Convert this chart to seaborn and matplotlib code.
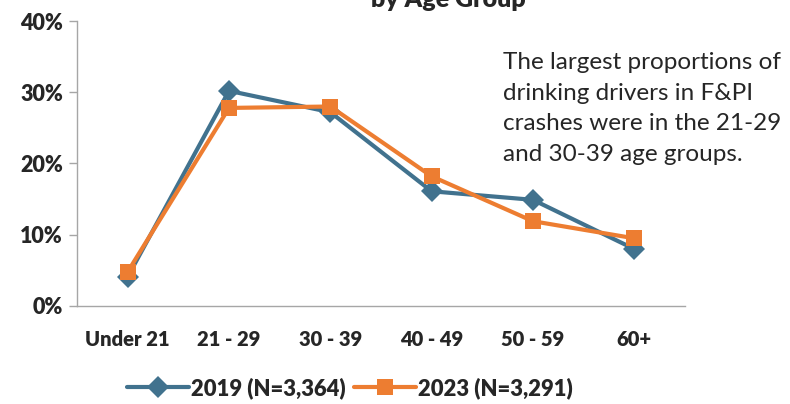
import matplotlib
matplotlib.use("Agg")
import matplotlib.pyplot as plt
import pandas as pd
import seaborn as sns
from matplotlib.ticker import FixedLocator, PercentFormatter

# data (percent of drinking drivers)
age_groups = ["Under 21", "21 - 29", "30 - 39", "40 - 49", "50 - 59", "60+"]
pct_2019 = [4.1, 30.2, 27.2, 16.1, 14.9, 8.0]
pct_2023 = [4.8, 27.8, 28.0, 18.2, 11.9, 9.5]
series_names = ["2019 (N=3,364)", "2023 (N=3,291)"]

df = pd.DataFrame({
    "age": age_groups * 2,
    "pct": pct_2019 + pct_2023,
    "series": [series_names[0]] * 6 + [series_names[1]] * 6,
})

sns.set_style("white")
plt.rcParams["font.family"] = ["Lato", "DejaVu Sans"]

fig = plt.figure(figsize=(7.9, 4.04), dpi=100)
ax = fig.add_axes([0.0975, 0.2426, 0.7695, 0.7054])

sns.lineplot(data=df, x="age", y="pct", hue="series", style="series",
             palette=["#41728E", "#ED7D31"], markers=["D", "s"], dashes=False,
             linewidth=3, markersize=11, markeredgewidth=0, ax=ax)

ax.set_xlim(-0.5, 5.5)
ax.set_ylim(0, 40)
ax.set_yticks([0, 10, 20, 30, 40])
ax.yaxis.set_major_formatter(PercentFormatter(decimals=0))
ax.set_xticks(range(6))
ax.set_xticklabels(age_groups)
ax.xaxis.set_minor_locator(FixedLocator([i - 0.5 for i in range(7)]))
ax.tick_params(axis="x", which="major", length=0, pad=17)
ax.tick_params(axis="x", which="minor", length=7, color="#a6a6a6", width=1, direction="out")
ax.tick_params(axis="y", length=6, color="#a6a6a6", width=1, direction="out", pad=4)
ax.tick_params(left=True, bottom=True)
for lab in ax.get_xticklabels():
    lab.set_fontweight("heavy")
    lab.set_fontsize(14.5)
for lab in ax.get_yticklabels():
    lab.set_fontweight("heavy")
    lab.set_fontsize(15.5)

sns.despine(ax=ax)
for side in ["left", "bottom"]:
    ax.spines[side].set_color("#a6a6a6")
    ax.spines[side].set_linewidth(1)
ax.set_xlabel("")
ax.set_ylabel("")

fig.text(0.567, 0.983, "by Age Group", ha="center", va="baseline",
         fontsize=18, fontweight="heavy")

fig.text(0.637, 0.872, "The largest proportions of\ndrinking drivers in F&PI\n"
         "crashes were in the 21-29\nand 30-39 age groups.",
         ha="left", va="top", fontsize=17.5, linespacing=1.58)

leg = ax.legend(loc="center", bbox_to_anchor=(0.443, 0.04),
                bbox_transform=fig.transFigure, ncol=2, frameon=False,
                handlelength=2.8, columnspacing=0.4, handletextpad=0.1,
                prop={"weight": "heavy", "size": 15.8})

fig.savefig("out.png", dpi=100)
